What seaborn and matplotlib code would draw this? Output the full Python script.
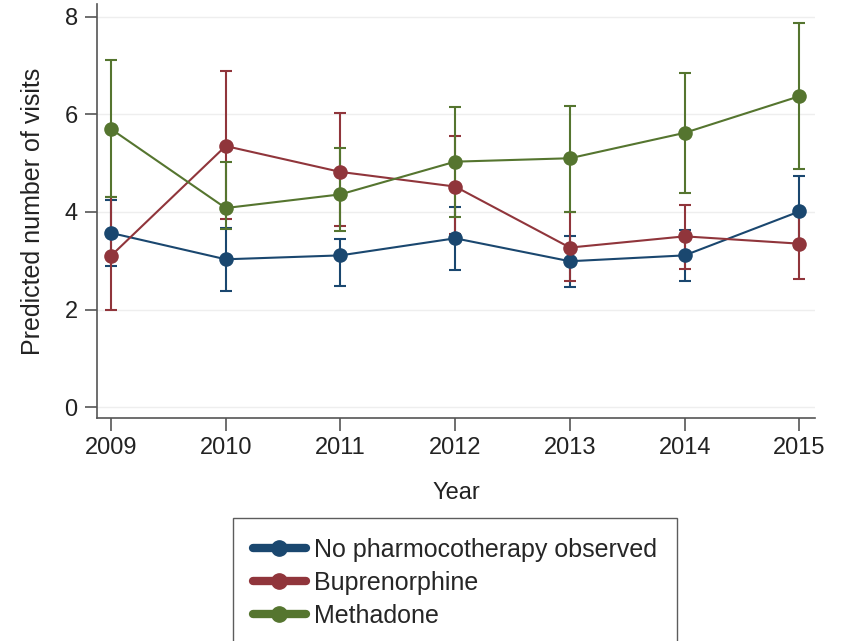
import numpy as np
import pandas as pd
import matplotlib
matplotlib.use("Agg")
import matplotlib.pyplot as plt
import seaborn as sns
from matplotlib.lines import Line2D

# --- Data ---
years = [2009, 2010, 2011, 2012, 2013, 2014, 2015]
groups = ["No pharmocotherapy observed", "Buprenorphine", "Methadone"]

none_est = [3.57, 3.03, 3.11, 3.46, 2.99, 3.11, 4.01]
none_lo = [2.90, 2.39, 2.49, 2.82, 2.47, 2.58, 3.28]
none_hi = [4.25, 3.68, 3.45, 4.11, 3.51, 3.64, 4.74]

bup_est = [3.10, 5.35, 4.82, 4.52, 3.27, 3.50, 3.35]
bup_lo = [1.99, 3.85, 3.72, 3.55, 2.58, 2.83, 2.63]
bup_hi = [4.30, 6.88, 6.03, 5.55, 4.00, 4.15, 4.07]

met_est = [5.70, 4.08, 4.36, 5.03, 5.10, 5.62, 6.37]
met_lo = [4.30, 3.65, 3.61, 3.90, 4.00, 4.39, 4.88]
met_hi = [7.11, 5.02, 5.31, 6.15, 6.18, 6.84, 7.88]

colors = {"No pharmocotherapy observed": "#1a476f",
          "Buprenorphine": "#90353b",
          "Methadone": "#55752f"}

df = pd.concat([
    pd.DataFrame({"Year": years, "est": none_est, "lo": none_lo, "hi": none_hi, "group": groups[0]}),
    pd.DataFrame({"Year": years, "est": bup_est, "lo": bup_lo, "hi": bup_hi, "group": groups[1]}),
    pd.DataFrame({"Year": years, "est": met_est, "lo": met_lo, "hi": met_hi, "group": groups[2]}),
])

# --- Plot ---
sns.set_style("white")
plt.rcParams['font.family'] = ['Liberation Sans', 'DejaVu Sans']
plt.rcParams['xtick.bottom'] = True
plt.rcParams['ytick.left'] = True

fig = plt.figure(figsize=(8.45, 6.41), dpi=100)
ax = fig.add_axes([0.115, 0.348, 0.85, 0.645])

for g in groups:
    sub = df[df["group"] == g]
    ax.errorbar(sub["Year"], sub["est"],
                yerr=[sub["est"] - sub["lo"], sub["hi"] - sub["est"]],
                fmt="none", ecolor=colors[g], elinewidth=1.5, capsize=4, capthick=1.5,
                zorder=2)

sns.lineplot(data=df, x="Year", y="est", hue="group", palette=colors,
             marker="o", markersize=10.5, markeredgewidth=0, linewidth=1.5,
             legend=False, ax=ax, zorder=3)

ax.set_xlim(2008.88, 2015.14)
ax.set_ylim(-0.22, 8.25)
ax.set_xticks(years)
ax.set_yticks([0, 2, 4, 6, 8])
ax.yaxis.grid(True, color="#eeeeee", linewidth=1)
ax.set_axisbelow(True)
for s in ["top", "right"]:
    ax.spines[s].set_visible(False)
for s in ["left", "bottom"]:
    ax.spines[s].set_color("#555555")
    ax.spines[s].set_linewidth(1.2)
ax.tick_params(axis="both", direction="out", length=9, width=1.2, color="#555555",
               labelsize=17, pad=5, labelcolor="#222222")
ax.set_xlabel("Year", fontsize=17, color="#222222", labelpad=16)
ax.set_ylabel("Predicted number of visits", fontsize=18, color="#222222", labelpad=14)

handles = [Line2D([0], [0], color=colors[g], linewidth=6, marker="o", markersize=11)
           for g in groups]
leg = fig.legend(handles, groups, loc="upper left", bbox_to_anchor=(0.276, 0.192),
                 borderaxespad=0, frameon=True, fancybox=False, fontsize=18,
                 handlelength=2.1, handletextpad=0.35, labelspacing=0.36, borderpad=0.8)
leg.get_frame().set_edgecolor("#333333")
leg.get_frame().set_linewidth(1.0)

fig.savefig("out.png", dpi=100)
